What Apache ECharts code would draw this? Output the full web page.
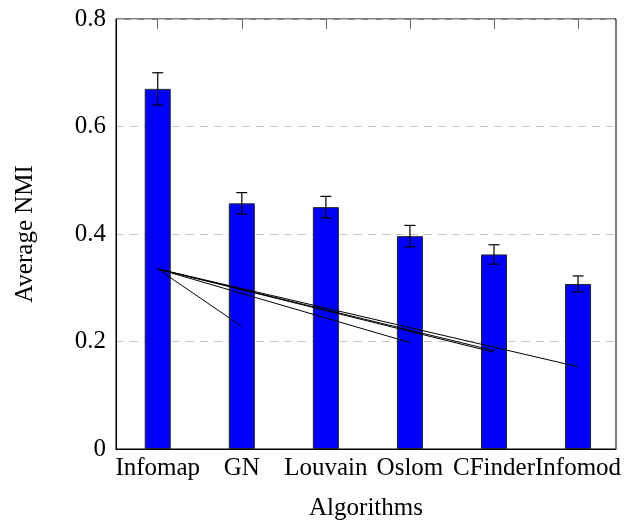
<!DOCTYPE html>
<html>
<head>
<meta charset="utf-8">
<script src="https://cdn.jsdelivr.net/npm/echarts@6/dist/echarts.min.js"></script>
<style>html,body{margin:0;padding:0;background:#fff;}#chart{width:637px;height:521px;}</style>
</head>
<body>
<div id="chart"></div>
<script>
const categories = ['Infomap', 'GN', 'Louvain', 'Oslom', 'CFinder', 'Infomod'];
const nmiMeans = [0.670, 0.457, 0.450, 0.396, 0.362, 0.307];
const nmiErrors = [0.030, 0.020, 0.020, 0.020, 0.018, 0.015];
const yTicks = [0, 0.2, 0.4, 0.6, 0.8];
// stray line segments drawn from the Infomap column
const strayStartCategory = 'Infomap';
const strayStartValue = 0.335;
const strayEndCategories = ['GN', 'Oslom', 'CFinder', 'CFinder', 'Infomod'];
const strayEndValues = [0.228, 0.198, 0.180, 0.183, 0.153];

const FONT = 'Liberation Serif';
const chart = echarts.init(document.getElementById('chart'), null, {renderer: 'canvas'});

const errData = categories.map((c, i) => [i, nmiMeans[i] - nmiErrors[i], nmiMeans[i] + nmiErrors[i]]);

const straySeries = strayEndCategories.map((c, i) => ({
  type: 'line',
  xAxisIndex: 1, yAxisIndex: 1,
  data: [[strayStartCategory, strayStartValue], [c, strayEndValues[i]]],
  symbol: 'none',
  lineStyle: {color: '#000', width: 1},
  z: 5,
  silent: true
}));

const yMin = yTicks[0], yMax = yTicks[yTicks.length - 1];

chart.setOption({
  animation: false,
  grid: [
    {left: 116, right: 21, top: 19, bottom: 72, outerBoundsMode: 'none', containLabel: false,
     show: true, borderColor: '#000', borderWidth: 1, backgroundColor: 'transparent'},
    {left: 115.7, right: 16.9, top: 19, bottom: 72, outerBoundsMode: 'none', containLabel: false}
  ],
  xAxis: [{
    gridIndex: 0,
    type: 'category',
    data: categories,
    name: 'Algorithms',
    nameLocation: 'middle',
    nameGap: 47,
    nameTextStyle: {fontFamily: FONT, fontSize: 25, color: '#000'},
    axisLine: {show: true, lineStyle: {color: '#000'}},
    axisTick: {show: false},
    axisLabel: {show: false}
  }, {
    gridIndex: 1,
    type: 'category',
    data: categories,
    position: 'bottom',
    axisLine: {show: false},
    axisTick: {show: true, inside: true, alignWithLabel: true, length: 10, lineStyle: {color: '#555'}},
    axisLabel: {interval: 0, fontFamily: FONT, fontSize: 25, color: '#000', margin: 7}
  }, {
    gridIndex: 1,
    type: 'category',
    data: categories,
    position: 'top',
    axisLine: {show: false},
    axisTick: {show: true, inside: true, alignWithLabel: true, length: 10, lineStyle: {color: '#666'}},
    axisLabel: {show: false}
  }],
  yAxis: [{
    gridIndex: 0,
    type: 'value',
    min: yMin,
    max: yMax,
    interval: 0.2,
    name: 'Average NMI',
    nameLocation: 'middle',
    nameGap: 78,
    nameRotate: 90,
    nameTextStyle: {fontFamily: FONT, fontSize: 25, color: '#000'},
    axisLine: {show: true, lineStyle: {color: '#000'}},
    axisTick: {show: false},
    axisLabel: {fontFamily: FONT, fontSize: 25, color: '#000', margin: 10,
      formatter: v => v === 0 ? '0' : v.toFixed(1)},
    splitLine: {show: true, lineStyle: {color: '#c4c4c4', type: [8, 6], width: 1}}
  }, {
    gridIndex: 1,
    type: 'value',
    min: yMin,
    max: yMax,
    interval: 0.2,
    show: false,
    splitLine: {show: false}
  }],
  series: [{
    type: 'bar',
    xAxisIndex: 1, yAxisIndex: 1,
    data: nmiMeans,
    barWidth: 26,
    itemStyle: {color: '#0000ff', borderColor: '#222', borderWidth: 1},
    z: 2
  }, {
    type: 'custom',
    xAxisIndex: 1, yAxisIndex: 1,
    data: errData,
    z: 4,
    renderItem: function (params, api) {
      const x = api.value(0);
      const lo = api.coord([x, api.value(1)]);
      const hi = api.coord([x, api.value(2)]);
      const half = 5.5;
      const style = {stroke: '#000', lineWidth: 1.2};
      return {type: 'group', children: [
        {type: 'line', shape: {x1: lo[0], y1: lo[1], x2: hi[0], y2: hi[1]}, style: style},
        {type: 'line', shape: {x1: lo[0] - half, y1: lo[1], x2: lo[0] + half, y2: lo[1]}, style: style},
        {type: 'line', shape: {x1: hi[0] - half, y1: hi[1], x2: hi[0] + half, y2: hi[1]}, style: style}
      ]};
    }
  }].concat(straySeries)
});
</script>
</body>
</html>
